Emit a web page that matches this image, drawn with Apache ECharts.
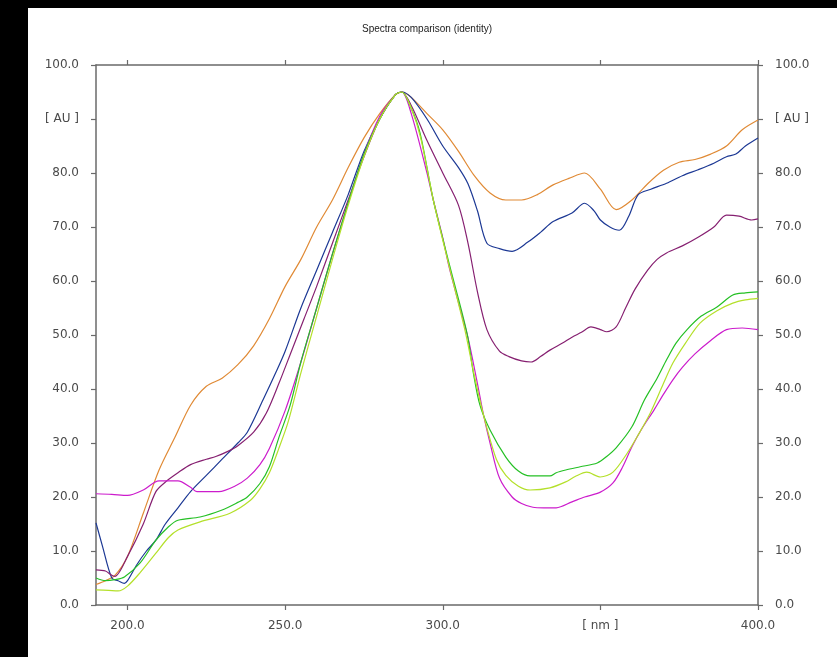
<!DOCTYPE html>
<html><head><meta charset="utf-8">
<script src="https://cdn.jsdelivr.net/npm/echarts@6/dist/echarts.min.js"></script>
<style>html,body{margin:0;padding:0;background:#fff}#c{width:837px;height:657px}</style>
</head><body><div id="c"></div>
<script>
const titleText = 'Spectra comparison (identity)';
const xTicks = [200, 250, 300, 350, 400];
const xTickLabels = ['200.0', '250.0', '300.0', '[ nm ]', '400.0'];
const yTicks = [0, 10, 20, 30, 40, 50, 60, 70, 80, 90, 100];
const yTickLabels = ['0.0', '10.0', '20.0', '30.0', '40.0', '50.0', '60.0', '70.0', '80.0', '[ AU ]', '100.0'];

const orange = [[190,3.8],[193,4.5],[196,5.5],[200,9],[205,17],[210,25],[215,31],[220,37],[225,40.5],[230,42],[235,44.5],[240,48],[245,53],[250,59],[255,64],[260,70],[265,75],[270,81],[275,86.5],[280,91],[285,94.5],[287,95],[290,94],[295,91],[300,88],[305,84],[310,79.5],[315,76.3],[320,75],[325,75],[330,76],[335,77.8],[340,79],[345,80],[350,77],[355,73.2],[360,75],[365,78],[370,80.5],[375,82],[380,82.5],[385,83.5],[390,85],[395,88],[400,89.8]];
const blue = [[190,15.2],[192,11],[195,5],[197,4.5],[199,4],[200,4.5],[203,7.5],[206,10],[209,12],[212,15],[216,18],[220,21],[225,24],[230,27],[235,30],[238,32],[243,38],[247,43],[250,47],[255,55],[260,62],[265,69],[270,76],[275,84],[280,90],[285,94.5],[287,95],[290,94],[295,90],[300,85],[305,81],[308,78],[311,73],[314,67],[318,66],[322,65.5],[327,67.2],[331,69],[335,71],[341,72.6],[345,74.4],[348,73],[350,71.3],[353,70],[356,69.4],[359,72],[362,76],[366,77],[371,78.1],[376,79.5],[381,80.6],[386,81.8],[390,83],[393,83.5],[396,85],[400,86.5]];
const purple = [[190,6.5],[193,6.3],[195,5.5],[196,5.3],[200,9],[205,15],[209,21],[212.5,23],[216,24.5],[220,26],[225,27],[228,27.5],[232,28.5],[235,29.5],[240,32],[244,35.5],[248,41],[252,47],[256,53],[260,59],[265,67],[270,75],[275,83],[280,90],[285,94.5],[287,95],[290,92.5],[295,86],[300,80],[305,74],[308,67],[311,58],[314,51],[318,47],[321,46],[325,45.2],[328,45],[331,46],[334,47.2],[338,48.5],[341,49.6],[344,50.5],[347,51.5],[350,51],[352,50.6],[355,51.5],[358,55],[361,58.5],[365,62],[368,64],[371,65.2],[376,66.5],[381,68.1],[386,70],[390,72.2],[394,72],[398,71.3],[400,71.5]];
const magenta = [[190,20.6],[195,20.5],[200,20.3],[205,21.3],[210,23],[216,23],[220,21.8],[222,21],[229,21],[234,22],[238,23.5],[242,26],[245,29],[250,36],[255,45],[260,55],[265,65],[270,74.5],[275,83.5],[280,90.5],[285,94.5],[287,95],[290,91],[295,80],[297,75],[300,68],[302,62.6],[305,56],[308,49.5],[311,41],[313,35],[315,30],[318,23.5],[322,20],[325,18.8],[328.6,18.1],[332,18],[336,18],[341,19.1],[345,20],[350,20.9],[354,22.6],[357,25.5],[360,29.3],[363,32.5],[367,36.1],[370,39],[373,41.7],[376,44],[380,46.5],[385,49],[390,51],[395,51.3],[400,51]];
const green = [[190,5],[193,4.5],[196,4.7],[199,5.2],[204,7.8],[209,12],[213,14.5],[216,15.7],[223,16.3],[230,17.6],[235,19],[238,20],[242,22.5],[245,25.6],[248,31],[251.6,37],[255,45],[260,55],[265,65],[270,74.5],[275,83.5],[280,90],[285,94.5],[287,95],[290,92],[292.8,87.4],[297,75],[302.3,62.6],[307.7,50.3],[309.7,43],[311.8,37],[315,32.4],[320,27.4],[324,24.8],[327.7,23.9],[334,23.9],[336,24.5],[339,25],[343.6,25.6],[349,26.3],[352,27.5],[355,29.1],[360,33],[364,38],[368,42],[371,45.4],[374,48.5],[377.5,51],[382,53.5],[387,55.2],[392,57.4],[396,57.8],[400,58]];
const yellow = [[190,2.8],[194,2.7],[197,2.6],[200,3.5],[204,6],[209,9.6],[213,12.5],[216,13.9],[223,15.4],[232.5,17],[239,19.4],[242,21.5],[245,24.5],[248,29],[251,34],[255,43],[260,53.5],[265,64],[270,74],[275,83],[280,90],[285,94.5],[287,95],[290,92],[293,86.5],[297,75],[302,62.8],[307,51],[310,42.5],[313,35],[317,27],[320,24],[324,22],[327.7,21.3],[334,21.7],[339,22.8],[342,23.8],[345.7,24.6],[350,23.7],[354,24.6],[358.5,28.1],[362,31.5],[365.8,35.5],[370,41],[373,44.8],[377,48.5],[381.6,52.2],[387,54.5],[392,55.9],[396,56.5],[400,56.8]];

const seriesList = [
  {name:'orange', data:orange, color:'#e08a35'},
  {name:'blue', data:blue, color:'#1c3894'},
  {name:'purple', data:purple, color:'#862071'},
  {name:'magenta', data:magenta, color:'#cc1ccc'},
  {name:'green', data:green, color:'#25c025'},
  {name:'yellow', data:yellow, color:'#b4e02a'}
];

const axisColor = '#6a6a6a';
const txtColor = '#4a4a4a';
const font = 'DejaVu Sans, Verdana, sans-serif';
const chart = echarts.init(document.getElementById('c'), null, {renderer:'canvas'});
function yLab(v){const i=yTicks.indexOf(Math.round(v));return i>=0?yTickLabels[i]:'';}
function xLab(v){const i=xTicks.indexOf(Math.round(v));return i>=0?xTickLabels[i]:'';}
const yAxisBase = {
  type:'value', min:0, max:100, interval:10,
  axisLine:{show:true, lineStyle:{color:axisColor, width:1.5}},
  axisTick:{show:true, length:5, lineStyle:{color:axisColor, width:1.2}},
  axisLabel:{formatter:yLab, color:txtColor, fontSize:12, fontFamily:font, margin:17},
  splitLine:{show:false}
};
chart.setOption({
  animation:false,
  backgroundColor:'#fff',
  title:{text:titleText, left:422, top:19, textAlign:'center', textStyle:{fontSize:10, fontWeight:'normal', color:'#222', fontFamily:'Liberation Sans, Arial, sans-serif'}},
  graphic:[
    {type:'rect', shape:{x:0,y:0,width:28,height:657}, style:{fill:'#000'}, z:100},
    {type:'rect', shape:{x:0,y:0,width:837,height:8}, style:{fill:'#000'}, z:100}
  ],
  grid:{left:96, right:79, top:65, bottom:52, containLabel:false},
  xAxis:[
    {type:'value', min:190, max:400, position:'bottom',
     axisLine:{show:true, onZero:false, lineStyle:{color:axisColor, width:1.5}},
     axisTick:{show:true, length:5, customValues:xTicks, lineStyle:{color:axisColor, width:1.2}},
     axisLabel:{customValues:xTicks, formatter:xLab, color:txtColor, fontSize:12, fontFamily:font, margin:15},
     splitLine:{show:false}},
    {type:'value', min:190, max:400, position:'top',
     axisLine:{show:true, onZero:false, lineStyle:{color:axisColor, width:1.5}},
     axisTick:{show:true, length:5, customValues:xTicks, lineStyle:{color:axisColor, width:1.2}},
     axisLabel:{show:false},
     splitLine:{show:false}}
  ],
  yAxis:[
    Object.assign({}, yAxisBase, {position:'left'}),
    Object.assign({}, yAxisBase, {position:'right'})
  ],
  series: seriesList.map(s=>({
    type:'line', name:s.name, data:s.data, xAxisIndex:0, yAxisIndex:0,
    showSymbol:false, smooth:0.3, lineStyle:{color:s.color, width:1.2}, itemStyle:{color:s.color}
  }))
});
</script></body></html>
